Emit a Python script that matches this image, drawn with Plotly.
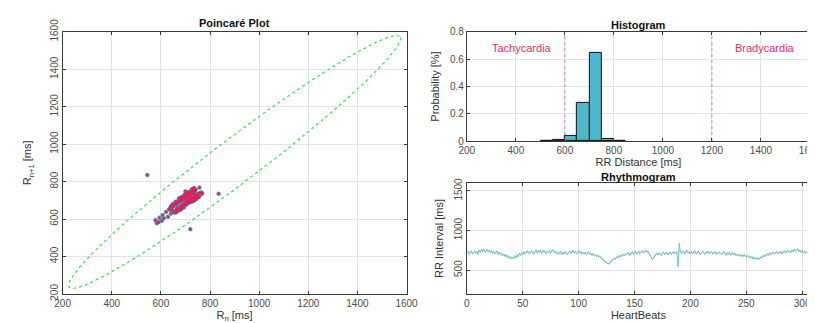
import plotly.graph_objects as go
import numpy as np

# ---------------- data ----------------
rr_intervals = [
    735, 702, 728, 741, 706, 719, 744, 711, 733, 700,
    748, 726, 759, 735, 766, 742, 729, 757, 738, 751,
    718, 744, 712, 736, 705, 729, 741, 703, 722, 695,
    717, 688, 703, 676, 694, 662, 681, 650, 668, 641,
    664, 648, 679, 660, 692, 674, 711, 686, 719, 697,
    731, 706, 724, 742, 709, 733, 716, 745, 721, 703,
    738, 756, 719, 742, 727, 751, 714, 739, 748, 722,
    709, 736, 725, 748, 716, 741, 757, 728, 739, 712,
    728, 702, 719, 734, 698, 721, 708, 733, 714, 697,
    722, 741, 713, 735, 749, 720, 738, 707, 731, 745,
    718, 732, 701, 724, 709, 728, 695, 716, 731, 704,
    712, 689, 706, 681, 697, 673, 690, 664, 679, 652,
    641, 629, 612, 604, 591, 583, 578, 594, 607, 621,
    638, 652, 641, 667, 655, 681, 664, 693, 677, 698,
    684, 712, 695, 719, 701, 688, 714, 726, 703, 717,
    731, 708, 724, 739, 712, 733, 745, 719, 738, 752,
    729, 741, 711, 688, 660, 634, 652, 679, 698, 713,
    694, 719, 702, 688, 714, 726, 699, 711, 723, 696,
    712, 727, 701, 718, 733, 709, 724, 720, 545, 835,
    735, 712, 741, 726, 703, 732, 748, 717, 729, 708,
    734, 711, 727, 742, 706, 721, 736, 713, 698, 725,
    739, 716, 702, 729, 717, 741, 708, 723, 735, 704,
    718, 731, 697, 722, 709, 726, 712, 694, 720, 735,
    706, 689, 717, 701, 725, 692, 710, 721, 696, 708,
    684, 703, 691, 677, 699, 686, 672, 694, 681, 667,
    686, 664, 676, 652, 670, 645, 661, 639, 655, 636,
    651, 642, 667, 658, 683, 671, 694, 680, 706, 689,
    717, 698, 711, 726, 703, 718, 732, 707, 721, 713,
    736, 709, 728, 744, 717, 731, 749, 722, 738, 726,
    751, 733, 762, 740, 757, 768, 735, 752, 729, 744,
    721, 738, 712, 729, 716, 734, 720,
]

hist_bin_left = [500, 550, 600, 650, 700, 750, 800]
hist_bin_width = 50
hist_probability = [0.003, 0.008, 0.04, 0.28, 0.645, 0.015, 0.004]

threshold_tachy = 600
threshold_brady = 1200

# normal-region ellipse (center, semi-axes along / across the identity line)
ellipse_center = (900, 905)
ellipse_semi_major = 950
ellipse_semi_minor = 105

axis_ticks_ms = [200, 400, 600, 800, 1000, 1200, 1400, 1600]
hist_y_ticks = [0, 0.2, 0.4, 0.6, 0.8]
hist_y_labels = ["0", "0.2", "0.4", "0.6", "0.8"]
rhythm_x_ticks = [0, 50, 100, 150, 200, 250, 300]
rhythm_y_ticks = [500, 1000, 1500]

# ---------------- derived ----------------
rr = np.array(rr_intervals, dtype=float)
rr_n = rr[:-1]
rr_n1 = rr[1:]
beats = np.arange(1, len(rr) + 1)

t = np.linspace(0, 2 * np.pi, 140)
u = ellipse_semi_major * np.cos(t)
v = ellipse_semi_minor * np.sin(t)
ell_x = ellipse_center[0] + (u - v) / np.sqrt(2)
ell_y = ellipse_center[1] + (u + v) / np.sqrt(2)

hist_centers = [b + hist_bin_width / 2 for b in hist_bin_left]

# ---------------- figure ----------------
fig = go.Figure()

FONT = "Liberation Sans, Arial, sans-serif"
TICK_FONT = dict(family=FONT, size=10, color="#4d4d4d")
LABEL_FONT = dict(family=FONT, size=11, color="#333333")
GRID = "#e3e3e3"
AX = "#3a3a3a"

# Poincare
fig.add_trace(go.Scatter(
    x=ell_x, y=ell_y, mode="lines",
    line=dict(color="#3ddc5a", width=1.2, dash="dot"),
    xaxis="x", yaxis="y", hoverinfo="skip", showlegend=False))
fig.add_trace(go.Scatter(
    x=rr_n, y=rr_n1, mode="markers",
    marker=dict(size=3.5, color="#38c3d6", line=dict(color="#2a7d93", width=0.8)),
    xaxis="x", yaxis="y", showlegend=False))
fig.add_trace(go.Scatter(
    x=rr_n, y=rr_n1, mode="markers",
    marker=dict(size=2.4, color="#ee1a5c"),
    xaxis="x", yaxis="y", showlegend=False))

# Histogram
fig.add_trace(go.Bar(
    x=hist_centers, y=hist_probability, width=hist_bin_width,
    marker=dict(color="#4db8cc", line=dict(color="#111111", width=1)),
    xaxis="x2", yaxis="y2", showlegend=False))
for thr in (threshold_tachy, threshold_brady):
    fig.add_trace(go.Scatter(
        x=[thr, thr], y=[0, 0.8], mode="lines",
        line=dict(color="#e0607a", width=0.8, dash="dot"),
        xaxis="x2", yaxis="y2", hoverinfo="skip", showlegend=False))

# Rhythmogram
fig.add_trace(go.Scatter(
    x=beats, y=rr, mode="lines+markers",
    line=dict(color="#62cadb", width=1),
    marker=dict(size=1.3, color="#7d8f95", opacity=0.6),
    xaxis="x3", yaxis="y3", showlegend=False))

def axis_common():
    return dict(
        showgrid=True, gridcolor=GRID, gridwidth=1,
        showline=True, linecolor=AX, linewidth=1, mirror="ticks",
        ticks="inside", ticklen=3, tickcolor=AX,
        tickfont=TICK_FONT, zeroline=False, automargin=False,
        ticklabeloverflow="allow",
    )

fig.update_layout(
    width=815, height=323,
    margin=dict(l=0, r=0, t=0, b=0, autoexpand=False),
    paper_bgcolor="white", plot_bgcolor="white",
    bargap=0,
    xaxis=dict(**axis_common(), domain=[0.067, 0.489], range=[200, 1600],
               tickvals=axis_ticks_ms, anchor="y",
               title=dict(text="R<sub>n</sub> [ms]", font=LABEL_FONT, standoff=2)),
    yaxis=dict(**axis_common(), domain=[0.115, 0.926], range=[200, 1600],
               tickvals=axis_ticks_ms, tickangle=-90, anchor="x",
               title=dict(text="R<sub>n+1</sub> [ms]", font=LABEL_FONT, standoff=14)),
    xaxis2=dict(**axis_common(), domain=[0.563, 0.984], range=[200, 1600],
                tickvals=axis_ticks_ms, anchor="y2",
                title=dict(text="RR Distance [ms]", font=LABEL_FONT, standoff=0)),
    yaxis2=dict(**axis_common(), domain=[0.588, 0.926], range=[0, 0.8],
                tickvals=hist_y_ticks, ticktext=hist_y_labels, anchor="x2",
                title=dict(text="Probability [%]", font=LABEL_FONT, standoff=8)),
    xaxis3=dict(**axis_common(), domain=[0.563, 0.984], range=[0, 307],
                tickvals=rhythm_x_ticks, anchor="y3",
                title=dict(text="HeartBeats", font=LABEL_FONT, standoff=2)),
    yaxis3=dict(**axis_common(), domain=[0.115, 0.458], range=[200, 1600],
                tickvals=rhythm_y_ticks, tickangle=-90, anchor="x3",
                title=dict(text="RR Interval [ms]", font=LABEL_FONT, standoff=6)),
    annotations=[
        dict(text="<b>Poincaré Plot</b>", x=0.2785, y=0.955, xref="paper", yref="paper",
             xanchor="center", yanchor="middle", showarrow=False,
             font=dict(family=FONT, size=11, color="#111")),
        dict(text="<b>Histogram</b>", x=0.7735, y=0.947, xref="paper", yref="paper",
             xanchor="center", yanchor="middle", showarrow=False,
             font=dict(family=FONT, size=11, color="#111")),
        dict(text="<b>Rhythmogram</b>", x=0.7735, y=0.477, xref="paper", yref="paper",
             xanchor="center", yanchor="middle", showarrow=False,
             font=dict(family=FONT, size=11, color="#111")),
        dict(text="Tachycardia", x=427, y=0.68, xref="x2", yref="y2",
             showarrow=False, font=dict(family=FONT, size=11, color="#e0306a")),
        dict(text="Bradycardia", x=1418, y=0.68, xref="x2", yref="y2",
             showarrow=False, font=dict(family=FONT, size=11, color="#e0306a")),
    ],
)

fig.write_html("out.html")
